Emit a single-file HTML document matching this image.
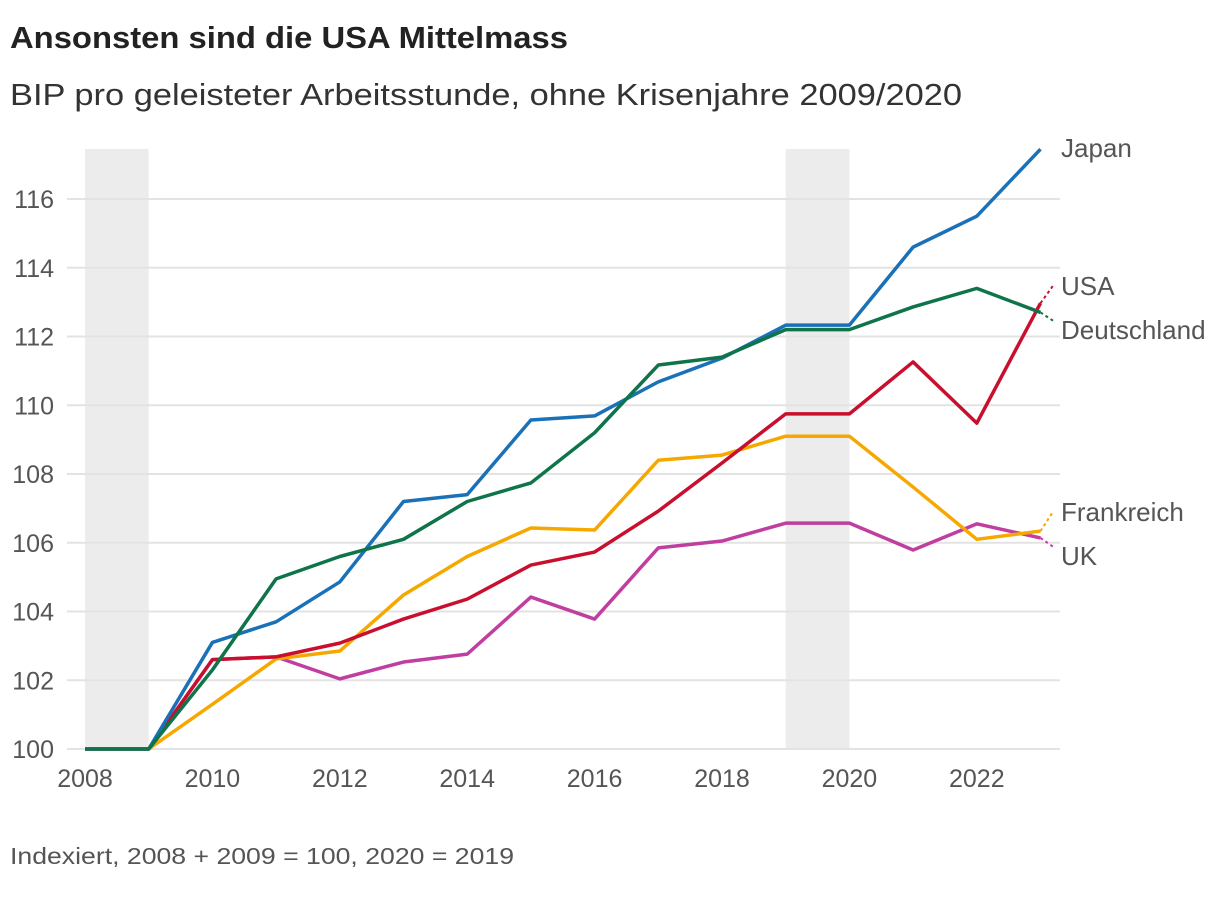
<!DOCTYPE html>
<html><head><meta charset="utf-8"><style>
body{margin:0;background:#fff;width:1220px;height:900px;overflow:hidden;font-family:"Liberation Sans","DejaVu Sans",sans-serif;}
</style></head><body>
<svg width="1220" height="900" xmlns="http://www.w3.org/2000/svg">
<text x="10" y="48" font-size="31" font-weight="bold" fill="#222" textLength="558" lengthAdjust="spacingAndGlyphs">Ansonsten sind die USA Mittelmass</text>
<text x="10" y="105" font-size="31" fill="#333" textLength="952" lengthAdjust="spacingAndGlyphs">BIP pro geleisteter Arbeitsstunde, ohne Krisenjahre 2009/2020</text>
<g id="bands"></g><g id="grid"></g><g id="lines"></g><g id="labels"></g>
<text x="10" y="864" font-size="23" fill="#555" textLength="504" lengthAdjust="spacingAndGlyphs">Indexiert, 2008 + 2009 = 100, 2020 = 2019</text>
</svg>
<script>
const years=[2008,2009,2010,2011,2012,2013,2014,2015,2016,2017,2018,2019,2020,2021,2022,2023];
const japan=[100,100,103.1,103.7,104.86,107.2,107.4,109.57,109.69,110.68,111.37,112.33,112.33,114.6,115.5,117.45];
const deutschland=[100,100,102.3,104.95,105.6,106.1,107.2,107.74,109.2,111.17,111.4,112.2,112.2,112.86,113.4,112.7];
const usa=[100,100,102.6,102.68,103.08,103.78,104.36,105.35,105.73,106.92,108.32,109.75,109.75,111.26,109.48,112.97];
const frankreich=[100,100,101.3,102.62,102.85,104.48,105.6,106.43,106.37,108.4,108.55,109.1,109.1,107.62,106.1,106.34];
const uk=[100,100,102.6,102.68,102.04,102.53,102.76,104.42,103.78,105.85,106.05,106.57,106.57,105.79,106.55,106.14];
const yTicks=[100,102,104,106,108,110,112,114,116];
const xTicks=[2008,2010,2012,2014,2016,2018,2020,2022];
const crisisBands=[[2008,2009],[2019,2020]];
const x=v=>85+(v-2008)*63.7;
const y=v=>749-(v-100)*34.375;
const NS="http://www.w3.org/2000/svg";
function mk(t,a,p){const e=document.createElementNS(NS,t);for(const k in a)e.setAttribute(k,a[k]);p.appendChild(e);return e;}
const bands=document.getElementById('bands'),grid=document.getElementById('grid'),lines=document.getElementById('lines'),labels=document.getElementById('labels');
crisisBands.forEach(b=>{const r=mk('rect',{x:x(b[0]),y:149,width:x(b[1])-x(b[0]),height:600,fill:'#ececec'},bands);

});
yTicks.forEach(t=>{const l=mk('line',{x1:67,x2:1060,y1:y(t),y2:y(t),stroke:'#e3e3e3','stroke-width':2},grid);


const tx=mk('text',{x:54,y:y(t)+9,'text-anchor':'end','font-size':25,fill:'#555'},grid);tx.textContent=t;

});
xTicks.forEach(t=>{const tx=mk('text',{x:x(t),y:787,'text-anchor':'middle','font-size':25,fill:'#555'},grid);tx.textContent=t;

});
const series=[['uk',uk,'#c03ea0','UK',557,1],['frankreich',frankreich,'#f5a800','Frankreich',513,-1],['usa',usa,'#c8102e','USA',287,-1],['japan',japan,'#1a71b8','Japan',149,0],['deutschland',deutschland,'#0f7449','Deutschland',331,1]];
series.forEach(s=>{const d=s[1].map((v,i)=>(i?'L':'M')+x(years[i])+','+y(v)).join('');
const p=mk('path',{d:d,fill:'none',stroke:s[2],'stroke-width':3.5,'stroke-linejoin':'round'},lines);


const ex=x(2023),ey=y(s[1][15]);
if(s[5]!==0){const c=mk('line',{x1:ex,y1:ey,x2:ex+13,y2:s[4]+(s[5]<0?-2:-10),stroke:s[2],'stroke-width':2,'stroke-dasharray':'3,3'},lines);

}
const t=mk('text',{x:1061,y:s[4]+8,'font-size':26,fill:'#555'},labels);t.textContent=s[3];

});
</script>
</body></html>
